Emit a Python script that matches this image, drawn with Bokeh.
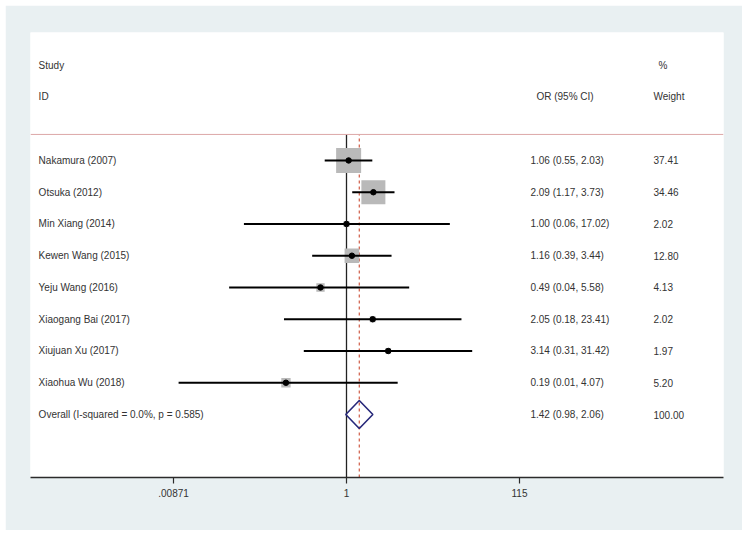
import math
from bokeh.plotting import figure
from bokeh.models import Range1d, FixedTicker, Span, ColumnDataSource
from bokeh.core.properties import value
from bokeh.embed import file_html
from bokeh.resources import INLINE

# ---------------- data ----------------
studies = ["Nakamura (2007)", "Otsuka (2012)", "Min Xiang (2014)", "Kewen Wang (2015)",
           "Yeju Wang (2016)", "Xiaogang Bai (2017)", "Xiujuan Xu (2017)", "Xiaohua Wu (2018)"]
odds = [1.06, 2.09, 1.00, 1.16, 0.49, 2.05, 3.14, 0.19]
ci_low = [0.55, 1.17, 0.06, 0.39, 0.04, 0.18, 0.31, 0.01]
ci_high = [2.03, 3.73, 17.02, 3.44, 5.58, 23.41, 31.42, 4.07]
weights = [37.41, 34.46, 2.02, 12.80, 4.13, 2.02, 1.97, 5.20]

overall_label = "Overall  (I-squared = 0.0%, p = 0.585)"
overall_or = 1.42
overall_low = 0.98
overall_high = 2.06
overall_weight = 100.00

tick_values = [0.00871, 1, 115]
tick_labels = [".00871", "1", "115"]

header_study = ["Study", "ID"]
header_or = "OR (95% CI)"
header_weight = ["%", "Weight"]

# ---------------- layout constants ----------------
FONT = value("Liberation Sans")
TXT = "#333333"
FS = "10px"

n = len(studies)
rows = [n + 1 - i for i in range(n)]        # 9 .. 2
overall_row = 1
sep_y = 9.82
y_lo, y_hi = -0.984, 13.03
x_lo, x_hi = math.exp(-8.667), math.exp(10.34)

LABEL_X = 2.15e-4
ORTXT_X = 155.0
ORHDR_X = 183.0
WT_X = 4536.0
PCT_X = 5200.0

p = figure(width=737, height=525, x_axis_type="log",
           x_range=Range1d(x_lo, x_hi), y_range=Range1d(y_lo, y_hi),
           output_backend="svg", toolbar_location=None,
           min_border_left=25, min_border_right=19, min_border_top=27, min_border_bottom=53)
p.margin = (5, 0, 0, 5)
p.border_fill_color = "#e9f0f2"
p.background_fill_color = "white"
p.outline_line_color = None
p.xgrid.visible = False
p.ygrid.visible = False
p.yaxis.visible = False

ax = p.xaxis[0]
ax.ticker = FixedTicker(ticks=tick_values, minor_ticks=[])
ax.major_label_overrides = {v: l for v, l in zip(tick_values, tick_labels)}
ax.axis_line_color = "#2b2b2b"
ax.axis_line_width = 1.5
ax.major_tick_line_color = "#2b2b2b"
ax.major_tick_line_width = 1.2
ax.major_tick_out = 6
ax.major_tick_in = 0
ax.minor_tick_out = 0
ax.minor_tick_in = 0
ax.major_label_standoff = 5
ax.major_label_text_font = "Liberation Sans"
ax.major_label_text_font_size = FS
ax.major_label_text_color = TXT

# separator line under the header
p.add_layout(Span(location=sep_y, dimension="width", line_color="#dca7a7", line_width=1))

# reference line at OR = 1 and dashed overall line
p.segment(x0=[1], y0=[y_lo], x1=[1], y1=[sep_y], line_color="#222222", line_width=1.3)
p.segment(x0=[overall_or], y0=[y_lo], x1=[overall_or], y1=[sep_y],
          line_color="#cf5a44", line_width=1.2, line_dash="3 3")

# study boxes, CI lines, points
src = ColumnDataSource(dict(
    y=rows, odds=odds, lo=ci_low, hi=ci_high,
    size=[4.09 * math.sqrt(w) for w in weights],
    name=studies,
    ortxt=["%.2f (%.2f, %.2f)" % (o, l, h) for o, l, h in zip(odds, ci_low, ci_high)],
    wt=["%.2f" % w for w in weights],
))
p.scatter(x="odds", y="y", size="size", marker="square", source=src,
          fill_color="#b9b9b9", line_color=None)
p.segment(x0="lo", y0="y", x1="hi", y1="y", source=src, line_color="black", line_width=2)
p.scatter(x="odds", y="y", size=5.5, source=src, fill_color="black", line_color="black")

# overall diamond
p.patch(x=[overall_low, overall_or, overall_high, overall_or, overall_low],
        y=[overall_row, overall_row + 0.44, overall_row, overall_row - 0.44, overall_row],
        fill_color=None, line_color="#27287a", line_width=1.6)

# text columns
p.text(x=LABEL_X, y="y", text="name", source=src, text_font=FONT, text_font_size=FS,
       text_color=TXT, text_baseline="middle", text_align="left")
p.text(x=ORTXT_X, y="y", text="ortxt", source=src, text_font=FONT, text_font_size=FS,
       text_color=TXT, text_baseline="middle", text_align="left")
p.text(x=WT_X, y="y", text="wt", source=src, text_font=FONT, text_font_size=FS,
       text_color=TXT, text_baseline="middle", text_align="left")

p.text(x=[LABEL_X, ORTXT_X, WT_X], y=[overall_row] * 3,
       text=[overall_label, "%.2f (%.2f, %.2f)" % (overall_or, overall_low, overall_high),
             "%.2f" % overall_weight],
       text_font=FONT, text_font_size=FS, text_color=TXT,
       text_baseline="middle", text_align="left")

# headers
p.text(x=[LABEL_X, LABEL_X, ORHDR_X, PCT_X, WT_X], y=[12, 11, 11, 12, 11],
       text=[header_study[0], header_study[1], header_or, header_weight[0], header_weight[1]],
       text_font=FONT, text_font_size=FS, text_color=TXT,
       text_baseline="middle", text_align="left")

open("out.html", "w").write(file_html(p, INLINE))
